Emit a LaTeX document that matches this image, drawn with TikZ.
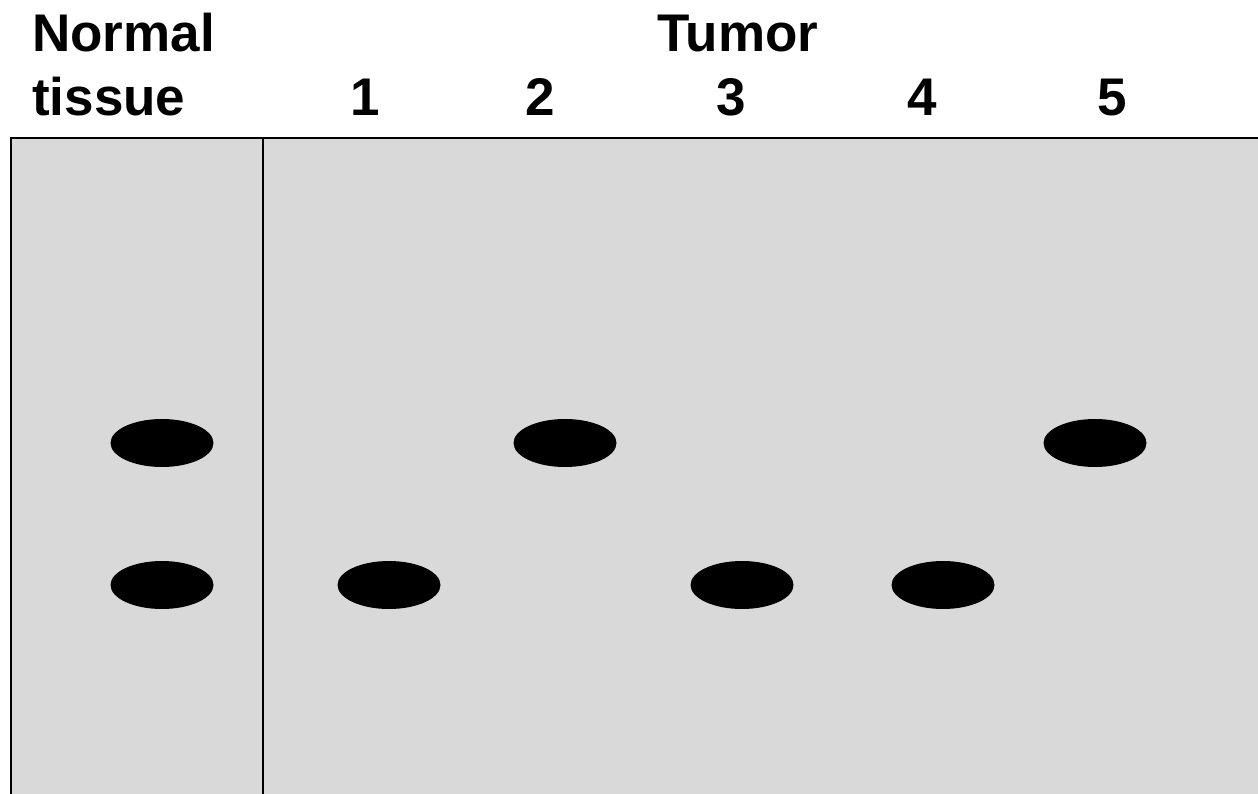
\documentclass[tikz,border=0pt]{standalone}
\usepackage{fontspec}
\setmainfont{Liberation Sans}
\usetikzlibrary{shapes.geometric}
\definecolor{gel}{HTML}{D9D9D9}
\begin{document}
\begin{tikzpicture}[x=1pt,y=-1pt,
  lbl/.style={font=\fontsize{53}{60}\selectfont\bfseries, inner sep=0pt},
  band/.style={ellipse, fill=black, minimum width=103pt, minimum height=48pt, inner sep=0pt}]
\useasboundingbox (0,0) rectangle (1258,794);
\fill[gel] (11,138) rectangle (1258,794);
\draw[line width=2pt] (11,794) -- (11,138) -- (1258,138);
\draw[line width=2pt] (263,138) -- (263,794);
\node[lbl, anchor=base west] (normal) at (32,52) {Normal};
\node[lbl, anchor=base west] (tissue) at (32,116) {tissue};
\node[lbl, anchor=base] (tumor) at (738,52) {Tumor};
\node[lbl, anchor=base] (l1) at (365,116) {1};
\node[lbl, anchor=base] (l2) at (540,116) {2};
\node[lbl, anchor=base] (l3) at (731,116) {3};
\node[lbl, anchor=base] (l4) at (922,116) {4};
\node[lbl, anchor=base] (l5) at (1112,116) {5};
\node[band] (n1) at (162,443) {};
\node[band] (n2) at (162,585) {};
\node[band] (t1) at (389,585) {};
\node[band] (t2) at (565,443) {};
\node[band] (t3) at (742,585) {};
\node[band] (t4) at (943,585) {};
\node[band] (t5) at (1095,443) {};
\end{tikzpicture}
\end{document}
